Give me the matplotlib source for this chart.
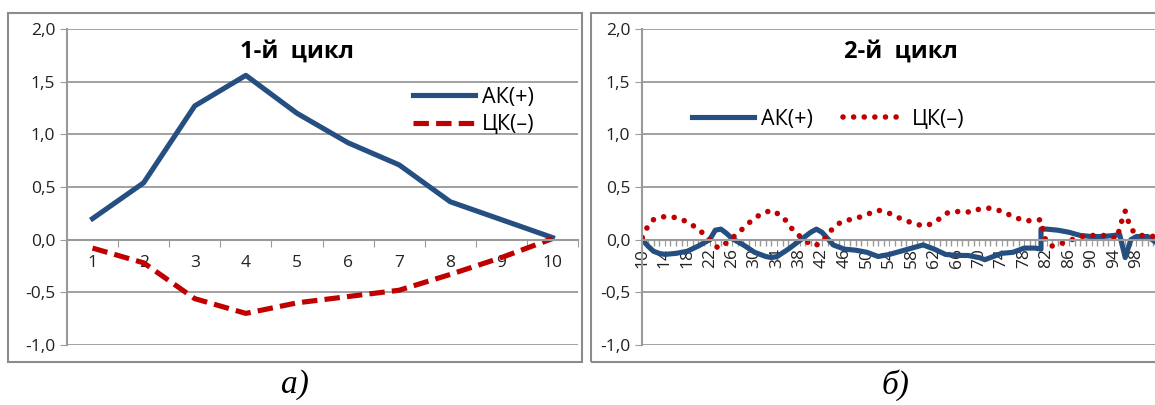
import matplotlib
matplotlib.use("Agg")
import matplotlib.pyplot as plt
from matplotlib.patches import Rectangle
from matplotlib.ticker import FuncFormatter

plt.rcParams['font.family'] = ['Open Sans', 'DejaVu Sans']

# ---- data: cycle 1 ----
c1_x = [1, 2, 3, 4, 5, 6, 7, 8, 9, 10]
c1_ak = [0.20, 0.54, 1.27, 1.56, 1.20, 0.92, 0.71, 0.36, 0.19, 0.02]
c1_ck = [-0.08, -0.22, -0.56, -0.70, -0.60, -0.54, -0.48, -0.33, -0.17, 0.01]

# ---- data: cycle 2 ----
c2_ak_x = [10, 11, 12, 13, 14, 16, 18, 20, 22, 23, 24, 25, 26, 28, 30, 32, 33, 34,
           36, 38, 40, 41, 42, 43, 44, 46, 48, 50, 52, 54, 56, 58, 60, 62, 64, 66,
           68, 70, 71, 72, 74, 76, 78, 80, 81, 81, 82, 84, 86, 88, 90, 92, 94, 95,
           96, 97, 98, 100, 101.3]
c2_ak = [0.0, -0.06, -0.11, -0.13, -0.14, -0.13, -0.11, -0.06, 0.0, 0.09, 0.10, 0.06,
         0.01, -0.05, -0.12, -0.16, -0.17, -0.16, -0.09, -0.01, 0.07, 0.10, 0.07, 0.01,
         -0.05, -0.09, -0.10, -0.12, -0.16, -0.14, -0.11, -0.08, -0.05, -0.09, -0.14,
         -0.15, -0.15, -0.17, -0.19, -0.17, -0.13, -0.12, -0.08, -0.08, -0.09, 0.10,
         0.10, 0.09, 0.07, 0.04, 0.03, 0.03, 0.04, 0.05, -0.17, 0.0, 0.03, 0.03, -0.02]

c2_ck_x = [10, 11, 12, 14, 16, 18, 20, 22, 23.5, 25, 27, 29, 31, 33, 35, 37, 39, 40.5,
           42, 43, 44.5, 46, 48, 50, 52, 54, 56, 58, 60, 61, 63, 64.5, 67, 68.5, 70,
           72, 74, 76, 78, 79.5, 81, 81.5, 82, 83, 85, 87, 89, 91, 93, 94.5, 95.5, 96,
           96.5, 97.5, 99, 101.3]
c2_ck = [0.02, 0.13, 0.19, 0.22, 0.21, 0.17, 0.10, 0.0, -0.08, -0.03, 0.06, 0.16, 0.24,
         0.28, 0.22, 0.08, -0.01, -0.06, -0.03, 0.05, 0.14, 0.18, 0.20, 0.24, 0.28,
         0.25, 0.20, 0.16, 0.13, 0.14, 0.20, 0.26, 0.27, 0.26, 0.29, 0.30, 0.27, 0.22,
         0.18, 0.18, 0.19, 0.05, -0.03, -0.06, -0.03, 0.01, 0.04, 0.04, 0.04, 0.01,
         0.20, 0.27, 0.18, 0.07, 0.04, 0.03]

BLUE = '#254f80'
RED = '#c00000'
GRID = '#9a9a9a'
TXT = '#222222'

W, H = 1155, 405
fig = plt.figure(figsize=(W / 100, H / 100), dpi=100)


def px_axes(x0, y0, x1, y1):
    return fig.add_axes([x0 / W, 1 - y1 / H, (x1 - x0) / W, (y1 - y0) / H])


def frame(x0, y0, x1, y1):
    fig.patches.append(Rectangle((x0 / W, 1 - y1 / H), (x1 - x0) / W, (y1 - y0) / H,
                                 transform=fig.transFigure, fill=False,
                                 edgecolor='#8c8c8c', linewidth=1.5))


def style(ax):
    ax.set_ylim(-1.0, 2.0)
    ax.set_yticks([-1.0, -0.5, 0.0, 0.5, 1.0, 1.5, 2.0])
    ax.yaxis.set_major_formatter(FuncFormatter(lambda v, p: f"{v:.1f}".replace('.', ',')))
    ax.grid(axis='y', color=GRID, linewidth=1.3)
    ax.set_axisbelow(True)
    for s in ['top', 'right']:
        ax.spines[s].set_visible(False)
    ax.spines['left'].set_color(GRID)
    ax.spines['left'].set_linewidth(1.5)
    ax.spines['bottom'].set_position(('data', 0))
    ax.spines['bottom'].set_color(GRID)
    ax.spines['bottom'].set_linewidth(1.5)
    ax.tick_params(axis='y', length=5, color=GRID, labelsize=12.5, labelcolor=TXT)
    ax.patch.set_alpha(0)


frame(8, 13, 582, 362)
frame(591, 13, 1160, 362)

# ---- chart a) ----
ax1 = px_axes(67, 29, 578, 345)
ax1.plot(c1_x, c1_ak, color=BLUE, linewidth=3.7, label='АК(+)')
ax1.plot(c1_x, c1_ck, color=RED, linewidth=3.7, linestyle=(0, (3.0, 1.4)), label='ЦК(–)')
ax1.set_xlim(0.5, 10.5)
style(ax1)
ax1.set_xticks([k + 0.5 for k in range(0, 11)])
ax1.set_xticklabels([])
ax1.set_xticks(c1_x, minor=True)
ax1.set_xticklabels([str(v) for v in c1_x], minor=True)
ax1.tick_params(axis='x', which='major', length=5, color=GRID, direction='out')
ax1.tick_params(axis='x', which='minor', length=0, pad=11, labelsize=12.5, labelcolor=TXT)
ax1.text(0.45, 0.93, '1-й  цикл', transform=ax1.transAxes, ha='center', va='center',
         fontsize=17, fontweight='bold')
ax1.legend(loc='upper left', bbox_to_anchor=(0.66, 0.845), frameon=False, fontsize=15.5,
           handlelength=2.9, handletextpad=0.3, labelspacing=0.3, borderaxespad=0)

# ---- chart б) ----
ax2 = px_axes(642, 29, 1155, 345)
ax2.plot(c2_ak_x, c2_ak, color=BLUE, linewidth=3.7, label='АК(+)')
ax2.plot(c2_ck_x, c2_ck, color=RED, linewidth=4.0, linestyle=(0, (0.01, 1.9)),
         dash_capstyle='round', label='ЦК(–)')
ax2.set_xlim(9.95, 101.3)
style(ax2)
ax2.set_xticks(list(range(10, 101, 4)))
ax2.set_xticklabels([str(v) for v in range(10, 101, 4)], rotation=90)
ax2.set_xticks(list(range(10, 102)), minor=True)
ax2.tick_params(axis='x', which='major', length=4, color=GRID, pad=2, labelsize=12.5,
                labelcolor=TXT)
ax2.tick_params(axis='x', which='minor', length=4, color=GRID, width=1)
ax2.text(0.505, 0.93, '2-й  цикл', transform=ax2.transAxes, ha='center', va='center',
         fontsize=17, fontweight='bold')
ax2.legend(loc='center left', bbox_to_anchor=(0.08, 0.715), ncol=2, frameon=False,
           fontsize=15.5, handlelength=2.9, handletextpad=0.3, columnspacing=1.4,
           borderaxespad=0)

# captions
fig.text(295 / W, 1 - 385 / H, 'а)', ha='center', va='center', fontsize=24,
         family='Liberation Serif', style='italic')
fig.text(895 / W, 1 - 385 / H, 'б)', ha='center', va='center', fontsize=24,
         family='Liberation Serif', style='italic')

fig.savefig('out.png', dpi=100)
